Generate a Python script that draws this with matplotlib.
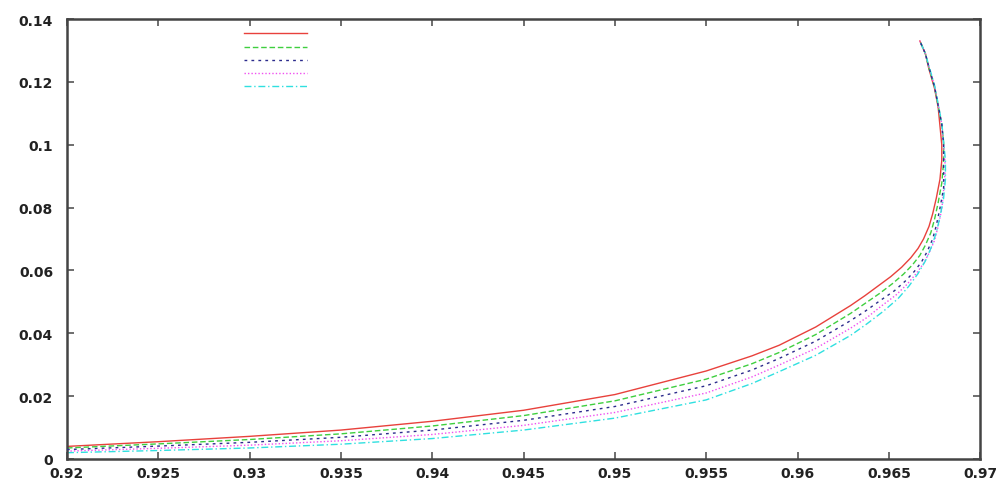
import matplotlib.pyplot as plt
from matplotlib.lines import Line2D
from matplotlib.ticker import FuncFormatter

# lower branch: shared x positions, y per series
low_x = [0.92, 0.925, 0.93, 0.935, 0.94, 0.945, 0.95, 0.955, 0.9575, 0.959, 0.961]
red_low_y = [0.0040, 0.0055, 0.0072, 0.0092, 0.0120, 0.0155, 0.0205, 0.0280, 0.0328, 0.0362, 0.0420]
green_low_y = [0.0035, 0.0048, 0.0062, 0.0080, 0.0105, 0.0138, 0.0185, 0.0254, 0.0303, 0.0339, 0.0396]
blue_low_y = [0.0030, 0.0041, 0.0053, 0.0069, 0.0092, 0.0123, 0.0167, 0.0233, 0.0283, 0.0320, 0.0375]
magenta_low_y = [0.0025, 0.0034, 0.0044, 0.0058, 0.0078, 0.0107, 0.0148, 0.0210, 0.0261, 0.0299, 0.0352]
cyan_low_y = [0.0020, 0.0027, 0.0035, 0.0047, 0.0065, 0.0092, 0.0130, 0.0188, 0.0240, 0.0278, 0.0330]

# bend and upper branch, per series
red_up_x = [0.9629, 0.9637, 0.9644, 0.9651, 0.9657, 0.9662, 0.9666, 0.9669, 0.9672, 0.9674,
            0.9676, 0.9678, 0.9679, 0.9679, 0.9678, 0.9677, 0.9675, 0.9672, 0.9670, 0.9667]
red_up_y = [0.0488, 0.052, 0.055, 0.058, 0.061, 0.064, 0.067, 0.070, 0.074, 0.078,
            0.083, 0.089, 0.095, 0.100, 0.106, 0.112, 0.118, 0.124, 0.129, 0.133]
green_up_x = [0.9629, 0.9637, 0.9645, 0.9652, 0.9658, 0.9663, 0.9667, 0.9670, 0.9673, 0.9675,
              0.9677, 0.9679, 0.9680, 0.9680, 0.9679, 0.9677, 0.9675, 0.9672, 0.9670, 0.9667]
green_up_y = [0.0463, 0.0495, 0.0527, 0.0558, 0.0588, 0.0618, 0.0648, 0.0680, 0.0720, 0.0762,
              0.0815, 0.0878, 0.0945, 0.1005, 0.1065, 0.1125, 0.1185, 0.1243, 0.129, 0.133]
blue_up_x = [0.9629, 0.9637, 0.9645, 0.9653, 0.9659, 0.9664, 0.9668, 0.9671, 0.9674, 0.9676,
             0.9678, 0.9680, 0.9680, 0.9680, 0.9679, 0.9677, 0.9675, 0.9672, 0.9670, 0.9667]
blue_up_y = [0.0440, 0.0470, 0.0503, 0.0535, 0.0566, 0.0597, 0.0628, 0.0660, 0.0700, 0.0743,
             0.0798, 0.0862, 0.0930, 0.1000, 0.1065, 0.1125, 0.1185, 0.1245, 0.129, 0.133]
magenta_up_x = [0.9629, 0.9638, 0.9646, 0.9654, 0.9660, 0.9665, 0.9669, 0.9672, 0.9675, 0.9677,
                0.9679, 0.9680, 0.9681, 0.9680, 0.9679, 0.9677, 0.9675, 0.9672, 0.9670, 0.9667]
magenta_up_y = [0.0416, 0.0450, 0.0487, 0.0522, 0.0556, 0.0590, 0.0622, 0.0655, 0.0695, 0.0740,
                0.0795, 0.0855, 0.0925, 0.1000, 0.1065, 0.1128, 0.1188, 0.1247, 0.129, 0.133]
cyan_up_x = [0.9629, 0.9638, 0.9647, 0.9655, 0.9661, 0.9666, 0.9670, 0.9673, 0.9676, 0.9678,
             0.9680, 0.9681, 0.9681, 0.9680, 0.9679, 0.9677, 0.9675, 0.9672, 0.9670, 0.9667]
cyan_up_y = [0.0393, 0.043, 0.047, 0.051, 0.055, 0.059, 0.063, 0.067, 0.072, 0.077,
             0.083, 0.089, 0.095, 0.101, 0.107, 0.113, 0.119, 0.125, 0.129, 0.133]

x_ticks = [0.92, 0.925, 0.93, 0.935, 0.94, 0.945, 0.95, 0.955, 0.96, 0.965, 0.97]
y_ticks = [0, 0.02, 0.04, 0.06, 0.08, 0.1, 0.12, 0.14]

series = [
    (red_low_y, red_up_x, red_up_y, "#e8413c", "-", 2),
    (green_low_y, green_up_x, green_up_y, "#3fcf3f", (0, (4, 2)), 2),
    (blue_low_y, blue_up_x, blue_up_y, "#2b2b8c", (0, (2, 3)), 3),
    (magenta_low_y, magenta_up_x, magenta_up_y, "#f050f0", (0, (1, 1.5)), 2),
    (cyan_low_y, cyan_up_x, cyan_up_y, "#30e0e0", (0, (5, 2, 1, 2)), 2),
]

fig = plt.figure(figsize=(9.98, 4.81), dpi=100)
ax = fig.add_axes([0.0671, 0.0437, 0.915, 0.9147])

handles = []
for low_y, up_x, up_y, col, ls, z in series:
    ax.plot(low_x + up_x, low_y + up_y, color=col, linestyle=ls, linewidth=1.0, zorder=z)
    handles.append(Line2D([], [], color=col, linestyle=ls, linewidth=1.0))

ax.set_xlim(0.92, 0.97)
ax.set_ylim(0, 0.14)
ax.set_xticks(x_ticks)
ax.set_yticks(y_ticks)
fmt = FuncFormatter(lambda v, p: "%g" % round(v, 4))
ax.xaxis.set_major_formatter(fmt)
ax.yaxis.set_major_formatter(fmt)
ax.tick_params(direction="in", top=True, right=True, length=5, width=1.2, color="#555555",
               labelsize=10, labelcolor="#222222")
ax.tick_params(axis="x", pad=5)
ax.tick_params(axis="y", pad=10)
for lab in ax.get_xticklabels() + ax.get_yticklabels():
    lab.set_fontweight("bold")
for sp in ax.spines.values():
    sp.set_linewidth(1.8)
    sp.set_color("#444444")

ax.legend(handles, [""] * 5, loc="upper left", bbox_to_anchor=(0.183, 1.003), frameon=False,
          handlelength=5.0, handletextpad=0, labelspacing=0.02, fontsize=9, borderpad=0.3)

fig.savefig("out.png", dpi=100)
